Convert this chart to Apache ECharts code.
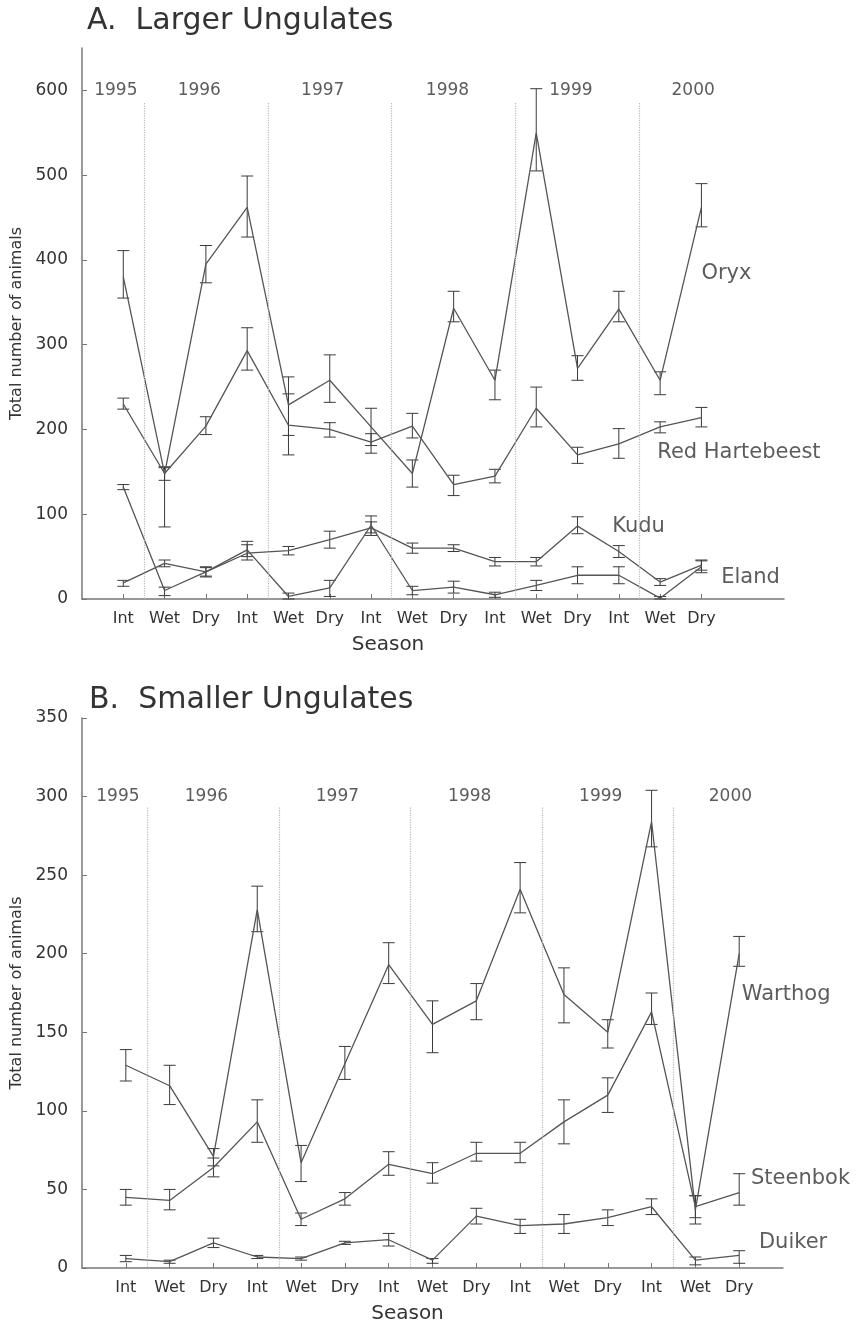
<!DOCTYPE html>
<html>
<head>
<meta charset="utf-8">
<script src="https://cdn.jsdelivr.net/npm/echarts@6/dist/echarts.min.js"></script>
<style>
  html, body { margin: 0; padding: 0; background: #fff; }
  #chart { width: 858px; height: 1333px; }
</style>
</head>
<body>
<div id="chart"></div>
<script>
var seasons = ['Int', 'Wet', 'Dry', 'Int', 'Wet', 'Dry', 'Int', 'Wet', 'Dry', 'Int', 'Wet', 'Dry', 'Int', 'Wet', 'Dry'];
var years = ['1995', '1996', '1997', '1998', '1999', '2000'];
var yearAt = [-0.18, 1.84, 4.83, 7.85, 10.84, 13.8];
var yearBreaks = [0.5, 3.5, 6.5, 9.5, 12.5];

// A. larger ungulates: mean, low and high end of the error bar
var oryx      = [380, 148, 395, 462, 229, 258, 203, 148, 343, 258, 550, 272, 342, 258, 462];
var oryxLow   = [355,  85, 373, 427, 193, 232, 181, 132, 327, 235, 505, 258, 327, 241, 439];
var oryxHigh  = [411, 156, 417, 499, 262, 288, 225, 164, 363, 270, 602, 287, 363, 268, 490];
var hart      = [230, 148, 204, 293, 205, 200, 185, 204, 135, 145, 225, 170, 183, 203, 214];
var hartLow   = [224, 140, 194, 270, 170, 191, 172, 190, 122, 137, 203, 160, 166, 196, 203];
var hartHigh  = [237, 155, 215, 320, 242, 208, 195, 219, 146, 153, 250, 179, 201, 209, 226];
var kudu      = [19, 42, 32, 54, 57, 70, 84, 60, 60, 44, 44, 86, 56, 20, 40];
var kuduLow   = [15, 38, 26, 46, 52, 60, 75, 54, 56, 39, 39, 77, 49, 16, 34];
var kuduHigh  = [22, 46, 38, 64, 62, 80, 91, 66, 64, 49, 49, 97, 63, 24, 46];
var eland     = [132, 10, 32, 58, 3, 13, 87, 10, 14, 5, 16, 28, 28, 1, 38];
var elandLow  = [129, 4, 27, 50, 0, 3, 78, 5, 7, 2, 10, 18, 18, 0, 31];
var elandHigh = [135, 14, 37, 68, 7, 22, 98, 15, 21, 8, 22, 38, 38, 3, 45];

// B. smaller ungulates
var warthog      = [129, 116, 71, 228, 67, 130, 193, 155, 170, 241, 174, 150, 284, 37, 200];
var warthogLow   = [119, 104, 65, 214, 55, 120, 181, 137, 158, 226, 156, 140, 268, 28, 192];
var warthogHigh  = [139, 129, 76, 243, 78, 141, 207, 170, 181, 258, 191, 158, 304, 46, 211];
var steenbok     = [45, 43, 64, 93, 31, 44, 66, 60, 73, 73, 93, 110, 163, 39, 48];
var steenbokLow  = [40, 37, 58, 80, 27, 40, 59, 54, 68, 67, 79, 99, 155, 32, 40];
var steenbokHigh = [50, 50, 70, 107, 35, 48, 74, 67, 80, 80, 107, 121, 175, 46, 60];
var duiker       = [6, 4, 16, 7, 6, 16, 18, 5, 33, 27, 28, 32, 39, 5, 8];
var duikerLow    = [4, 3, 13, 6, 5, 15, 14, 3, 28, 22, 22, 27, 34, 2, 3];
var duikerHigh   = [8, 5, 19, 8, 7, 17, 22, 6, 38, 31, 34, 37, 44, 7, 11];

// species name tags [name, x index, value]
var notesA = [['Oryx', 14.0, 384], ['Red Hartebeest', 12.93, 173], ['Kudu', 11.84, 86], ['Eland', 14.48, 25]];
var notesB = [['Warthog', 14.06, 174], ['Steenbok', 14.27, 57], ['Duiker', 14.45, 16]];

var idx = seasons.map(function (s, i) { return i; });
var font = 'DejaVu Sans';
var ink = '#3a3a3a';

function pairs(vals) {
  return vals.map(function (v, i) { return [i, v]; });
}
function bars(lo, hi) {
  return lo.map(function (v, i) { return [i, v, hi[i]]; });
}

function errorBar(params, api) {
  var x = api.value(0);
  var lo = api.coord([x, api.value(1)]);
  var hi = api.coord([x, api.value(2)]);
  var w = 6;
  var st = { stroke: ink, lineWidth: 1 };
  return {
    type: 'group',
    children: [
      { type: 'line', shape: { x1: lo[0], y1: lo[1], x2: hi[0], y2: hi[1] }, style: st },
      { type: 'line', shape: { x1: lo[0] - w, y1: lo[1], x2: lo[0] + w, y2: lo[1] }, style: st },
      { type: 'line', shape: { x1: hi[0] - w, y1: hi[1], x2: hi[0] + w, y2: hi[1] }, style: st }
    ]
  };
}

function lineSeries(name, vals, g) {
  return {
    name: name, type: 'line', xAxisIndex: g, yAxisIndex: g,
    data: pairs(vals), showSymbol: false, silent: true,
    lineStyle: { color: '#555', width: 1.3 }
  };
}
function barSeries(name, lo, hi, g) {
  return {
    name: name + ' SE', type: 'custom', xAxisIndex: g, yAxisIndex: g,
    renderItem: errorBar, data: bars(lo, hi), silent: true, z: 3
  };
}
function noteSeries(notes, g) {
  return {
    type: 'scatter', xAxisIndex: g, yAxisIndex: g, symbolSize: 0, silent: true,
    data: notes.map(function (n) { return { name: n[0], value: [n[1], n[2]] }; }),
    label: { show: true, position: 'right', distance: 0, formatter: '{b}', fontFamily: font, fontSize: 21, color: '#333' }
  };
}
function yearSeries(yVal, topVal, g) {
  return {
    type: 'scatter', xAxisIndex: g, yAxisIndex: g, symbolSize: 0, silent: true,
    data: years.map(function (y, i) { return { name: y, value: [yearAt[i], yVal] }; }),
    label: { show: true, position: 'inside', formatter: '{b}', fontFamily: font, fontSize: 17, color: '#333' },
    markLine: {
      silent: true, symbol: 'none', label: { show: false },
      lineStyle: { color: '#bbb', type: 'dotted', width: 1.2 },
      data: yearBreaks.map(function (b) { return [{ coord: [b, topVal] }, { coord: [b, 0] }]; })
    }
  };
}

function xAxis(g, max, nameShift) {
  return {
    type: 'value', gridIndex: g, min: -1, max: max,
    axisLine: { show: true, onZero: false, lineStyle: { color: '#777', width: 1.5 } },
    axisTick: { show: true, inside: true, length: 5, customValues: idx, lineStyle: { color: '#777' } },
    axisLabel: {
      customValues: idx, margin: 12, fontFamily: font, fontSize: 16, color: '#333',
      formatter: function (v) { return seasons[v] || ''; }
    },
    splitLine: { show: false },
    name: 'Season', nameLocation: 'middle', nameGap: 36,
    nameTextStyle: { fontFamily: font, fontSize: 20, color: '#333', padding: [0, nameShift, 0, 0] }
  };
}
function yAxis(g, max, top, step) {
  var ticks = [];
  for (var v = 0; v <= top; v += step) ticks.push(v);
  return {
    type: 'value', gridIndex: g, min: 0, max: max, interval: step,
    axisLine: { show: true, onZero: false, lineStyle: { color: '#777', width: 1.5 } },
    axisTick: { show: true, inside: true, length: 5, customValues: ticks, lineStyle: { color: '#777' } },
    axisLabel: {
      customValues: ticks, margin: 14, fontFamily: font, fontSize: 17, color: '#333',
      formatter: function (v) { return v > top ? '' : String(v); }
    },
    splitLine: { show: false },
    name: 'Total number of animals', nameLocation: 'middle', nameGap: 46, nameRotate: 90,
    nameTextStyle: { fontFamily: font, fontSize: 16, color: '#333' }
  };
}

var chart = echarts.init(document.getElementById('chart'));
chart.setOption({
  backgroundColor: '#fff',
  animation: false,
  textStyle: { fontFamily: font },
  title: [
    { text: 'A.  Larger Ungulates', left: 87, top: 6, padding: 0, textStyle: { fontFamily: font, fontSize: 30, fontWeight: 'normal', color: '#333' } },
    { text: 'B.  Smaller Ungulates', left: 89, top: 685, padding: 0, textStyle: { fontFamily: font, fontSize: 30, fontWeight: 'normal', color: '#333' } }
  ],
  grid: [
    { left: 82, right: 74, top: 48, bottom: 734 },
    { left: 82, right: 75, top: 718, bottom: 65 }
  ],
  xAxis: [xAxis(0, 16, 90), xAxis(1, 15, 50)],
  yAxis: [yAxis(0, 650, 600, 100), yAxis(1, 350, 350, 50)],
  series: [
    yearSeries(600, 585, 0),
    lineSeries('Oryx', oryx, 0), barSeries('Oryx', oryxLow, oryxHigh, 0),
    lineSeries('Red Hartebeest', hart, 0), barSeries('Red Hartebeest', hartLow, hartHigh, 0),
    lineSeries('Kudu', kudu, 0), barSeries('Kudu', kuduLow, kuduHigh, 0),
    lineSeries('Eland', eland, 0), barSeries('Eland', elandLow, elandHigh, 0),
    noteSeries(notesA, 0),
    yearSeries(300, 293, 1),
    lineSeries('Warthog', warthog, 1), barSeries('Warthog', warthogLow, warthogHigh, 1),
    lineSeries('Steenbok', steenbok, 1), barSeries('Steenbok', steenbokLow, steenbokHigh, 1),
    lineSeries('Duiker', duiker, 1), barSeries('Duiker', duikerLow, duikerHigh, 1),
    noteSeries(notesB, 1)
  ]
});
</script>
</body>
</html>
